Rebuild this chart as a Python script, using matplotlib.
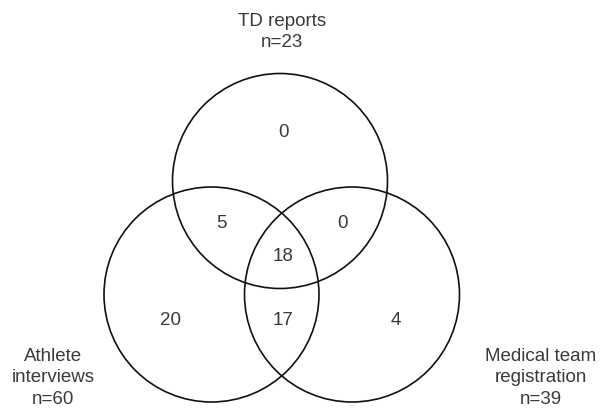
import matplotlib.pyplot as plt
from matplotlib.patches import Circle

# Venn data
set_names = ["TD reports\nn=23", "Athlete\ninterviews\nn=60", "Medical team\nregistration\nn=39"]
region_labels = ["0", "5", "0", "18", "20", "17", "4"]

# layout (pixel coordinates)
centers = [(280, 182), (211.5, 295.5), (352, 295.5)]
radius = 107.5
region_pos = [(283, 133), (221, 224), (342, 224), (283, 257), (170, 321), (283, 321), (396, 321)]
name_pos = [(282, 32), (53, 378), (541, 378)]

fig = plt.figure(figsize=(6.03, 4.10), dpi=100)
ax = fig.add_axes([0, 0, 1, 1])
ax.set_xlim(0, 603)
ax.set_ylim(410, 0)
ax.set_aspect("equal")
ax.axis("off")

for c in centers:
    ax.add_patch(Circle(c, radius, fill=False, edgecolor="#111111", linewidth=1.2))

for (x, y), t in zip(region_pos, region_labels):
    ax.text(x, y, t, ha="center", va="center", fontsize=13.5,
            family="Liberation Sans", color="#3a3a3a")

for (x, y), t in zip(name_pos, set_names):
    ax.text(x, y, t, ha="center", va="center", fontsize=13.5,
            family="Liberation Sans", color="#3a3a3a", linespacing=1.33)

fig.savefig("out.png", dpi=100)
